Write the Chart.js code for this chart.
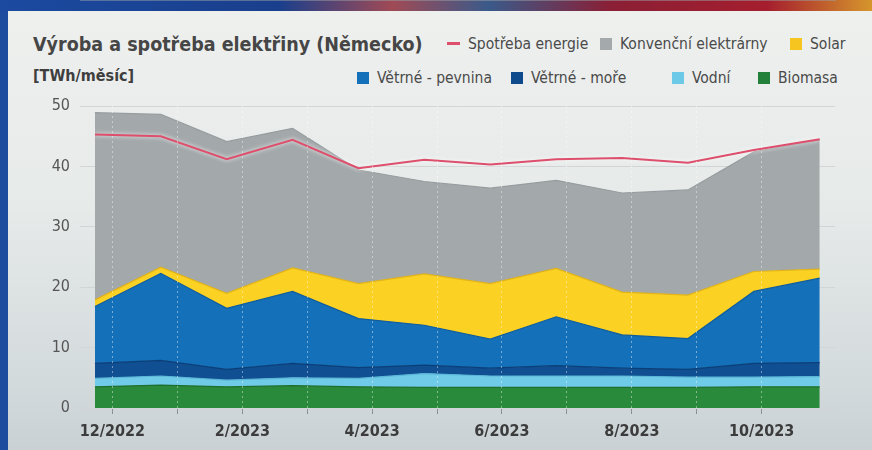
<!DOCTYPE html>
<html>
<head>
<meta charset="utf-8">
<script src="https://cdn.jsdelivr.net/npm/chart.js@4/dist/chart.umd.min.js"></script>
<style>
  html, body { margin: 0; padding: 0; }
  body {
    width: 872px; height: 450px; overflow: hidden; position: relative;
    background: #1d4c9e;
    font-family: "DejaVu Sans Condensed", "Liberation Sans", sans-serif;
  }
  #topband {
    position: absolute; left: 0; top: 0; width: 872px; height: 11px;
    background: linear-gradient(90deg, #1b4aa0 0%, #1a3f8c 32%, #a04a55 45%, #3a5a8a 56%, #8a1f35 70%, #a51e2e 88%, #d6962c 100%);
  }
  #panel {
    position: absolute; left: 8px; top: 11px; width: 864px; height: 439px;
    background: linear-gradient(180deg, #eef0ee 0%, #e6eae9 45%, #d3dadc 85%, #c9d1d4 100%);
  }
  #title {
    position: absolute; left: 33px; top: 33px; font-size: 19.5px; font-weight: bold; color: #464646;
  }
  #unit {
    position: absolute; left: 33px; top: 66px; font-size: 16px; font-weight: bold; color: #3e3e3e;
  }
  .lg { position: absolute; font-size: 15.5px; color: #4a4a4a; white-space: nowrap; }
  .lg i { display: inline-block; width: 12px; height: 12px; margin-right: 8px; vertical-align: -1px; }
  .lg i.line { height: 3px; vertical-align: 4px; width: 13px; }
  canvas { position: absolute; left: 0; top: 0; }
</style>
</head>
<body>
<div id="topband"></div>
<div id="panel"></div>
<div id="title">Výroba a spotřeba elektřiny (Německo)</div>
<div id="unit">[TWh/měsíc]</div>
<div id="legend"></div>
<canvas id="chart" width="872" height="450"></canvas>
<script>
// months 12/2022 .. 11/2023
const months = ["12/2022", "1/2023", "2/2023", "3/2023", "4/2023", "5/2023",
                "6/2023", "7/2023", "8/2023", "9/2023", "10/2023", "11/2023"]

// TWh per month
const biomasa    = [3.5, 3.8, 3.5, 3.7, 3.5, 3.4, 3.4, 3.4, 3.4, 3.4, 3.5, 3.5]
const vodni      = [1.4, 1.5, 1.1, 1.3, 1.4, 2.3, 1.9, 1.9, 1.9, 1.7, 1.6, 1.7]
const vetrneMore = [2.5, 2.6, 1.8, 2.4, 1.8, 1.4, 1.3, 1.7, 1.3, 1.3, 2.3, 2.3]
const vetrnePevnina = [9.4, 14.4, 10.1, 11.9, 8.1, 6.6, 4.8, 8.1, 5.5, 5.1, 11.9, 14.0]
const solar      = [1.1, 1.0, 2.5, 3.9, 5.8, 8.5, 9.2, 8.0, 7.1, 7.2, 3.3, 1.5]
const konvencni  = [31.0, 25.3, 25.1, 23.1, 18.8, 15.3, 15.8, 14.6, 16.4, 17.4, 19.8, 21.4]
const spotreba   = [45.3, 45.0, 41.2, 44.4, 39.7, 41.1, 40.3, 41.2, 41.4, 40.6, 42.7, 44.5]

const yTicks = [0, 10, 20, 30, 40, 50]
const xTickLabels = ["12/2022", "2/2023", "4/2023", "6/2023", "8/2023", "10/2023"]

// points sit a bit left of the month ticks in the original
const pointStep = 1.015
const pointShift = -0.27

function toPoints(arr) {
    return arr.map((v, i) => ({ x: i * pointStep + pointShift, y: v }))
}

// legend, laid out like the original (two rows, right side)
const legendItems = [
    { label: "Spotřeba energie", color: "#dd4f6c", line: true, left: 447, top: 35 },
    { label: "Konvenční elektrárny", color: "#a4a9ab", left: 600, top: 35 },
    { label: "Solar", color: "#f7c520", left: 790, top: 35 },
    { label: "Větrné - pevnina", color: "#1470b9", left: 357, top: 69 },
    { label: "Větrné - moře", color: "#0e4a8c", left: 511, top: 69 },
    { label: "Vodní", color: "#6cc9e8", left: 672, top: 69 },
    { label: "Biomasa", color: "#22803a", left: 758, top: 69 }
]
const legendEl = document.getElementById("legend")
legendItems.forEach(it => {
    let d = document.createElement("div")
    d.className = "lg"
    d.style.left = it.left + "px"
    d.style.top = it.top + "px"
    d.innerHTML = '<i class="' + (it.line ? 'line' : '') + '" style="background:' + it.color + '"></i>' + it.label
    legendEl.appendChild(d)
})

function area(label, data, fill, color, edge) {
    return {
        label: label,
        data: toPoints(data),
        stack: "prod",
        fill: fill,
        backgroundColor: color,
        borderColor: edge,
        borderWidth: 1.2,
        pointRadius: 0,
        tension: 0
    }
}

// white halo round the consumption line
const glow = {
    id: "glow",
    beforeDatasetDraw(chart, args) {
        if (args.index !== 0) return
        chart.ctx.save()
        chart.ctx.shadowColor = "rgba(255,255,255,0.95)"
        chart.ctx.shadowBlur = 4
    },
    afterDatasetDraw(chart, args) {
        if (args.index !== 0) return
        chart.ctx.restore()
    }
}

const ctx = document.getElementById("chart")
const chart = new Chart(ctx, {
    type: "line",
    data: {
        datasets: [
            {
                label: "Spotřeba energie",
                data: toPoints(spotreba),
                stack: "cons",
                fill: false,
                borderColor: "#dd4f6c",
                borderWidth: 2,
                pointRadius: 0
            },
            area("Biomasa", biomasa, "origin", "#2a8a3b", "#1f6e2e"),
            area("Vodní", vodni, "-1", "#6fcbe8", "#5ab6d6"),
            area("Větrné - moře", vetrneMore, "-1", "#0f4f92", "#0b3f78"),
            area("Větrné - pevnina", vetrnePevnina, "-1", "#1470b9", "#0f5d9c"),
            area("Solar", solar, "-1", "#fbd123", "#e0b318"),
            area("Konvenční elektrárny", konvencni, "-1", "#a3a8aa", "#979c9f")
        ]
    },
    plugins: [glow],
    options: {
        responsive: false,
        animation: false,
        layout: { padding: { left: 40, right: 37, top: 106, bottom: 0 } },
        plugins: {
            legend: { display: false },
            tooltip: { enabled: false }
        },
        scales: {
            x: {
                type: "linear",
                min: -0.5,
                max: 11.13,
                afterBuildTicks: function (scale) {
                    scale.ticks = months.slice(0, 11).map((m, i) => ({ value: i }))
                },
                afterFit: function (scale) { scale.height = 42 },
                ticks: {
                    autoSkip: false,
                    maxRotation: 0,
                    padding: 8,
                    color: "#3c3c3c",
                    font: { family: "'DejaVu Sans Condensed', sans-serif", size: 16, weight: "bold" },
                    callback: function (value) {
                        return value % 2 === 0 ? xTickLabels[value / 2] : ""
                    }
                },
                grid: {
                    z: 1,
                    color: "rgba(255,255,255,0.42)",
                    lineWidth: 1,
                    tickColor: "#8a8f92",
                    tickLength: 6,
                    tickBorderDash: []
                },
                border: { color: "#9aa0a3", dash: [2, 3], width: 1 }
            },
            y: {
                stacked: true,
                min: 0,
                max: 50,
                afterBuildTicks: function (scale) {
                    scale.ticks = yTicks.map(v => ({ value: v }))
                },
                afterFit: function (scale) { scale.width = 40 },
                ticks: {
                    color: "#555",
                    padding: 10,
                    font: { family: "'DejaVu Sans Condensed', sans-serif", size: 16 }
                },
                grid: {
                    color: "#d2d5d6",
                    lineWidth: 1,
                    drawTicks: false
                },
                border: { display: false }
            }
        }
    }
})
</script>
</body>
</html>
